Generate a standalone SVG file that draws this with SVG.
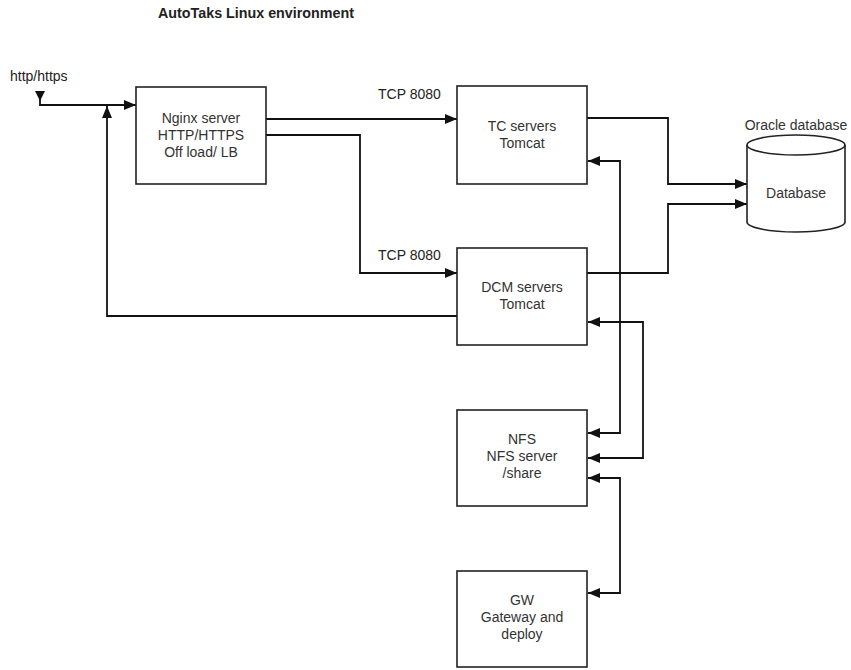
<svg xmlns="http://www.w3.org/2000/svg" width="851" height="670" viewBox="0 0 851 670">
<defs>
<marker id="ah" viewBox="0 0 12 10" refX="12" refY="5" markerWidth="12" markerHeight="10" markerUnits="userSpaceOnUse" orient="auto-start-reverse">
<path d="M0,0 L12,5 L0,10 Z" fill="#111"/>
</marker>
</defs>
<style>
.box{fill:#fff;stroke:#222;stroke-width:1.6}
.t{font-family:"Liberation Sans",Arial,sans-serif;font-size:14px;fill:#333;text-anchor:middle}
.l{font-family:"Liberation Sans",Arial,sans-serif;font-size:14px;fill:#222}
.c{fill:none;stroke:#111;stroke-width:1.8}
</style>
<rect width="851" height="670" fill="#fff"/>
<text x="158" y="18" style="font-family:'Liberation Sans',Arial,sans-serif;font-size:14.3px;font-weight:bold;fill:#222">AutoTaks Linux environment</text>
<g id="connectors">
<path class="c" d="M40,97 L40,105 L136,105" marker-end="url(#ah)"/>
<path d="M35,91 L45,91 L40,101 Z" fill="#111"/>
<path class="c" d="M457,316 L107,316 L107,106" marker-end="url(#ah)"/>
<path class="c" d="M266,119 L457,119" marker-end="url(#ah)"/>
<path class="c" d="M266,135 L360,135 L360,273 L457,273" marker-end="url(#ah)"/>
<path class="c" d="M587,118 L668,118 L668,184 L747,184" marker-end="url(#ah)"/>
<path class="c" d="M587,273 L668,273 L668,204 L747,204" marker-end="url(#ah)"/>
<path class="c" d="M588,161 L620,161 L620,433 L588,433" marker-start="url(#ah)" marker-end="url(#ah)"/>
<path class="c" d="M588,322 L643,322 L643,458 L588,458" marker-start="url(#ah)" marker-end="url(#ah)"/>
<path class="c" d="M588,478 L620,478 L620,593 L588,593" marker-start="url(#ah)" marker-end="url(#ah)"/>
<text class="l" x="10" y="81">http/https</text>
<text class="l" x="378" y="99">TCP 8080</text>
<text class="l" x="378" y="260">TCP 8080</text>
</g>
<g id="nginx">
<rect class="box" x="136" y="87" width="130" height="97"/>
<text class="t" x="201" y="123">Nginx server</text>
<text class="t" x="201" y="140">HTTP/HTTPS</text>
<text class="t" x="201" y="157">Off load/ LB</text>
</g>
<g id="tc">
<rect class="box" x="457" y="86" width="130" height="98"/>
<text class="t" x="522" y="131">TC servers</text>
<text class="t" x="522" y="148">Tomcat</text>
</g>
<g id="dcm">
<rect class="box" x="457" y="248" width="130" height="97"/>
<text class="t" x="522" y="292">DCM servers</text>
<text class="t" x="522" y="309">Tomcat</text>
</g>
<g id="nfs">
<rect class="box" x="457" y="410" width="130" height="96"/>
<text class="t" x="522" y="444">NFS</text>
<text class="t" x="522" y="461">NFS server</text>
<text class="t" x="522" y="478">/share</text>
</g>
<g id="gw">
<rect class="box" x="457" y="571" width="130" height="96"/>
<text class="t" x="522" y="605">GW</text>
<text class="t" x="522" y="622">Gateway and</text>
<text class="t" x="522" y="639">deploy</text>
</g>
<g id="database">
<path class="box" d="M747,145 L747,222 A49,10 0 0 0 845,222 L845,145 A49,10 0 0 0 747,145 Z"/>
<path class="box" d="M747,145 A49,10 0 0 0 845,145"/>
<text class="t" x="796" y="198">Database</text>
<text class="t" x="796" y="130">Oracle database</text>
</g>
</svg>
